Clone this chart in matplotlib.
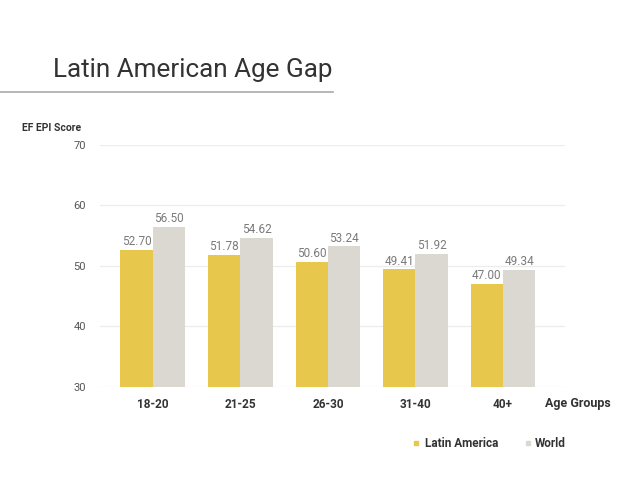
import matplotlib.pyplot as plt
import numpy as np
from matplotlib.lines import Line2D

# data
groups = ["18-20", "21-25", "26-30", "31-40", "40+"]
latin_america = [52.70, 51.78, 50.60, 49.41, 47.00]
world = [56.50, 54.62, 53.24, 51.92, 49.34]
yticks = [30, 40, 50, 60, 70]

yellow = "#E7C84C"
grey = "#DBD7D1"

plt.rcParams["font.family"] = ["Roboto", "DejaVu Sans"]

fig = plt.figure(figsize=(6.4, 4.8), dpi=100)
ax = fig.add_axes([0.156, 0.194, 0.727, 0.504])

x = np.arange(len(groups))
w = 0.37
b1 = ax.bar(x - w / 2, latin_america, w, color=yellow, zorder=2)
b2 = ax.bar(x + w / 2, world, w, color=grey, zorder=2)

for rects, vals in ((b1, latin_america), (b2, world)):
    for r, v in zip(rects, vals):
        ax.text(r.get_x() + r.get_width() / 2, v + 0.3, f"{v:.2f}",
                ha="center", va="bottom", fontsize=8.5, color="#7a7a7a")

ax.set_ylim(30, 70)
ax.set_xlim(-0.606, 4.71)
ax.set_yticks(yticks)
ax.set_yticklabels([str(t) for t in yticks], fontsize=8, color="#555555")
ax.set_xticks(x)
ax.set_xticklabels(groups, fontsize=8.5, fontweight="bold", color="#333333")
ax.tick_params(axis="both", length=0, pad=10)
ax.tick_params(axis="x", pad=8)
ax.grid(axis="y", color="#ececec", lw=0.9, zorder=0)
for s in ax.spines.values():
    s.set_visible(False)

fig.text(0.083, 0.855, "Latin American Age Gap", fontsize=18.8, fontweight="normal",
         color="#333333", va="center")
fig.add_artist(Line2D([0, 0.52], [0.808, 0.808], color="#aaaaaa", lw=1.2))
fig.text(0.035, 0.733, "EF EPI Score", fontsize=7.5, fontweight="bold",
         color="#333333", va="center")
fig.text(0.852, 0.16, "Age Groups", fontsize=9, fontweight="bold",
         color="#333333", va="center")

# legend
fig.lines.append(Line2D([0.65], [0.077], marker="s", ms=3, color=yellow,
                        transform=fig.transFigure, ls=""))
fig.text(0.664, 0.077, "Latin America", fontsize=8.5, fontweight="bold",
         color="#333333", va="center")
fig.lines.append(Line2D([0.825], [0.077], marker="s", ms=3, color=grey,
                        transform=fig.transFigure, ls=""))
fig.text(0.836, 0.077, "World", fontsize=8.5, fontweight="bold",
         color="#333333", va="center")

fig.savefig("out.png", dpi=100, facecolor="white")
